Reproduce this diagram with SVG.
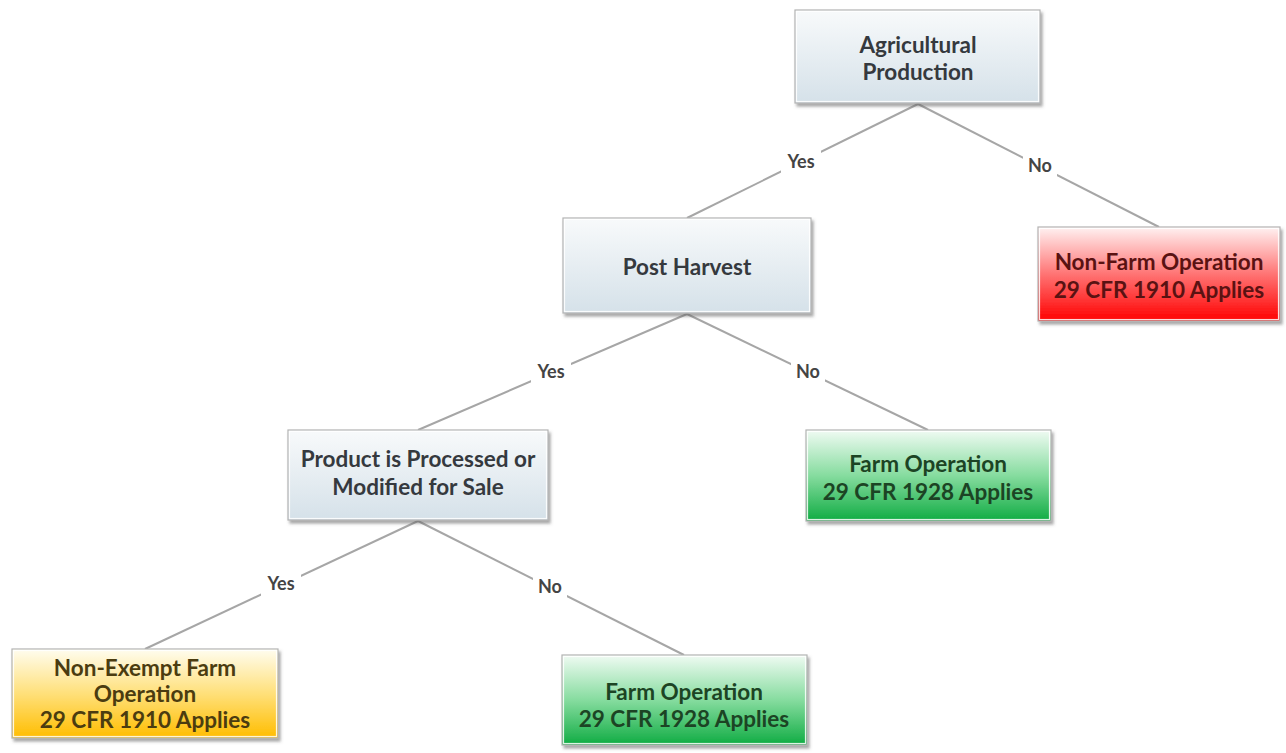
<svg xmlns="http://www.w3.org/2000/svg" width="1286" height="753" viewBox="0 0 1286 753">
<style>
.box{stroke:#b4b4b4;stroke-width:1.2}
.inner{fill:none;stroke:#ffffff;stroke-opacity:0.85;stroke-width:1.2}
.t{font-family:Lato,"Open Sans","Liberation Sans",sans-serif;font-weight:700;font-size:22.5px;text-anchor:middle}
.tb{fill:#35393e}
.tr{fill:#5a1212}
.tg{fill:#1c4424}
.ty{fill:#4b3c10}
.ln{stroke:#a6a6a6;stroke-width:2;fill:none}
.lb{font-family:Lato,"Open Sans","Liberation Sans",sans-serif;font-weight:700;font-size:18px;fill:#444444;text-anchor:middle}
.bg{fill:#ffffff}
</style>
<defs>
<linearGradient id="gBlue" x1="0" y1="0" x2="0" y2="1">
<stop offset="0" stop-color="#f8fafb"/><stop offset="1" stop-color="#d5e1e9"/>
</linearGradient>
<linearGradient id="gRed" x1="0" y1="0" x2="0" y2="1">
<stop offset="0" stop-color="#fff2f2"/><stop offset="0.5" stop-color="#ff7474"/><stop offset="1" stop-color="#ff0000"/>
</linearGradient>
<linearGradient id="gGreen" x1="0" y1="0" x2="0" y2="1">
<stop offset="0" stop-color="#f0fbf3"/><stop offset="0.5" stop-color="#86dc9f"/><stop offset="1" stop-color="#10ac43"/>
</linearGradient>
<linearGradient id="gYellow" x1="0" y1="0" x2="0" y2="1">
<stop offset="0" stop-color="#fffdf0"/><stop offset="0.5" stop-color="#ffe07a"/><stop offset="1" stop-color="#ffbd00"/>
</linearGradient>
<filter id="sh" x="-10%" y="-10%" width="125%" height="130%">
<feDropShadow dx="2" dy="3" stdDeviation="1.8" flood-color="#606060" flood-opacity="0.55"/>
</filter>
</defs>
<rect width="1286" height="753" fill="#ffffff"/>
<g id="connectors">
<line class="ln" x1="918" y1="104" x2="687" y2="218"/>
<line class="ln" x1="918" y1="104" x2="1159" y2="227"/>
<line class="ln" x1="687" y1="314" x2="418" y2="430"/>
<line class="ln" x1="687" y1="314" x2="928" y2="430"/>
<line class="ln" x1="418" y1="521" x2="145" y2="649"/>
<line class="ln" x1="418" y1="521" x2="684" y2="655"/>
<rect class="bg" x="781" y="149" width="40" height="26"/>
<text class="lb" x="801" y="168">Yes</text>
<rect class="bg" x="1023" y="153" width="34" height="26"/>
<text class="lb" x="1040" y="172">No</text>
<rect class="bg" x="531" y="359" width="40" height="26"/>
<text class="lb" x="551" y="378">Yes</text>
<rect class="bg" x="791" y="359" width="34" height="26"/>
<text class="lb" x="808" y="378">No</text>
<rect class="bg" x="261" y="571" width="40" height="26"/>
<text class="lb" x="281" y="590">Yes</text>
<rect class="bg" x="533" y="574" width="34" height="26"/>
<text class="lb" x="550" y="593">No</text>
</g>
<g id="agricultural">
<rect class="box" x="795" y="10" width="245" height="93" fill="url(#gBlue)" filter="url(#sh)"/>
<rect class="inner" x="796.5" y="11.5" width="242" height="90"/>
<text class="t tb" x="918" y="53">Agricultural</text>
<text class="t tb" x="918" y="80">Production</text>
</g>
<g id="post-harvest">
<rect class="box" x="563" y="218" width="248" height="95" fill="url(#gBlue)" filter="url(#sh)"/>
<rect class="inner" x="564.5" y="219.5" width="245" height="92"/>
<text class="t tb" x="687" y="275">Post Harvest</text>
</g>
<g id="non-farm">
<rect class="box" x="1038" y="227" width="242" height="94" fill="url(#gRed)" filter="url(#sh)"/>
<rect class="inner" x="1039.5" y="228.5" width="239" height="91"/>
<text class="t tr" x="1159" y="270">Non-Farm Operation</text>
<text class="t tr" x="1159" y="298">29 CFR 1910 Applies</text>
</g>
<g id="product">
<rect class="box" x="288" y="430" width="260" height="90" fill="url(#gBlue)" filter="url(#sh)"/>
<rect class="inner" x="289.5" y="431.5" width="257" height="87"/>
<text class="t tb" x="418" y="467">Product is Processed or</text>
<text class="t tb" x="418" y="495">Modified for Sale</text>
</g>
<g id="farm-op-1">
<rect class="box" x="806" y="430" width="245" height="91" fill="url(#gGreen)" filter="url(#sh)"/>
<rect class="inner" x="807.5" y="431.5" width="242" height="88"/>
<text class="t tg" x="928" y="472">Farm Operation</text>
<text class="t tg" x="928" y="500">29 CFR 1928 Applies</text>
</g>
<g id="non-exempt">
<rect class="box" x="12" y="649" width="266" height="89" fill="url(#gYellow)" filter="url(#sh)"/>
<rect class="inner" x="13.5" y="650.5" width="263" height="86"/>
<text class="t ty" x="145" y="676">Non-Exempt Farm</text>
<text class="t ty" x="145" y="702">Operation</text>
<text class="t ty" x="145" y="728">29 CFR 1910 Applies</text>
</g>
<g id="farm-op-2">
<rect class="box" x="562" y="655" width="245" height="90" fill="url(#gGreen)" filter="url(#sh)"/>
<rect class="inner" x="563.5" y="656.5" width="242" height="87"/>
<text class="t tg" x="684" y="700">Farm Operation</text>
<text class="t tg" x="684" y="727">29 CFR 1928 Applies</text>
</g>
</svg>
